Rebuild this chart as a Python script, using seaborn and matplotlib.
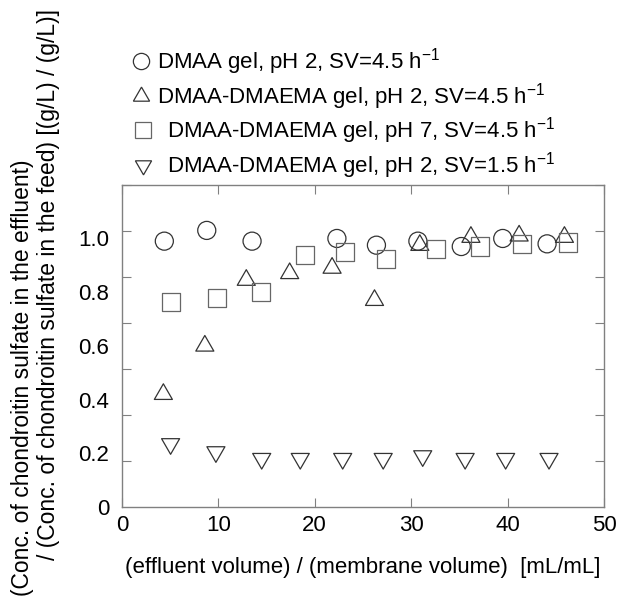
import numpy as np
import pandas as pd
import matplotlib
matplotlib.use("Agg")
import matplotlib.pyplot as plt
from matplotlib.lines import Line2D
import seaborn as sns

# veriler
dmaa_ph2_x = [4.4, 8.8, 13.5, 22.3, 26.4, 30.7, 35.2, 39.5, 44.1]
dmaa_ph2_y = [0.99, 1.03, 0.99, 1.00, 0.975, 0.99, 0.97, 1.00, 0.98]

copoly_ph2_x = [4.3, 8.6, 12.9, 17.4, 21.8, 26.2, 30.9, 36.2, 41.2, 45.9]
copoly_ph2_y = [0.42, 0.60, 0.845, 0.87, 0.89, 0.77, 0.975, 1.005, 1.01, 1.005]

copoly_ph7_x = [5.05, 9.9, 14.4, 19.0, 23.1, 27.4, 32.6, 37.1, 41.5, 46.3]
copoly_ph7_y = [0.765, 0.78, 0.80, 0.94, 0.95, 0.925, 0.96, 0.97, 0.98, 0.985]

copoly_slow_x = [5.05, 9.75, 14.5, 18.5, 22.9, 27.1, 31.2, 35.6, 39.8, 44.3]
copoly_slow_y = [0.235, 0.205, 0.18, 0.18, 0.18, 0.18, 0.19, 0.18, 0.18, 0.18]

labels = [
    "DMAA gel, pH 2, SV=4.5 h$^{\\mathrm{-1}}$",
    "DMAA-DMAEMA gel, pH 2, SV=4.5 h$^{\\mathrm{-1}}$",
    "DMAA-DMAEMA gel, pH 7, SV=4.5 h$^{\\mathrm{-1}}$",
    "DMAA-DMAEMA gel, pH 2, SV=1.5 h$^{\\mathrm{-1}}$",
]
ytick_vals = [0, 0.2, 0.4, 0.6, 0.8, 1.0]
ytick_labels = ["0", "0.2", "0.4", "0.6", "0.8", "1.0"]
xtick_vals = [0, 10, 20, 30, 40, 50]

sns.set_style("ticks")
plt.rcParams["font.family"] = ["Liberation Sans", "DejaVu Sans"]
plt.rcParams["mathtext.fontset"] = "custom"
plt.rcParams["mathtext.rm"] = "Liberation Sans"
plt.rcParams["mathtext.it"] = "Liberation Sans:italic"
plt.rcParams["text.color"] = "black"
plt.rcParams["axes.labelcolor"] = "black"

fig = plt.figure(figsize=(6.22, 6.04), dpi=100)
ax = fig.add_axes([0.196, 0.1606, 0.775, 0.5335])

series = [
    (dmaa_ph2_x, dmaa_ph2_y, "o", 169, "#333333"),
    (copoly_ph2_x, copoly_ph2_y, (3, 0, 0), 225, "#333333"),
    (copoly_ph7_x, copoly_ph7_y, "s", 169, "#666666"),
    (copoly_slow_x, copoly_slow_y, (3, 0, 180), 225, "#333333"),
]
for xs, ys, mk, size, col in series:
    d = pd.DataFrame({"x": xs, "y": ys})
    sns.scatterplot(data=d, x="x", y="y", ax=ax, marker=mk, s=size,
                    facecolor="none", edgecolor=col, linewidth=0.9, zorder=3)

ax.set_xlim(0, 50)
ax.set_ylim(0, 1.2)
ax.set_xticks(xtick_vals)
ax.set_yticks(ytick_vals)
ax.set_yticklabels(ytick_labels)
# olcek cizgileri etiketlerden bagimsiz: 7 esit aralik
ax.set_yticks(np.linspace(0, 1.2, 8), minor=True)
ax.tick_params(axis="x", direction="in", length=6.5, width=0.8, color="#808080",
               top=True, labelsize=16, pad=6, labelcolor="black")
ax.tick_params(axis="y", which="major", length=0, labelsize=16, pad=9,
               labelcolor="black")
ax.tick_params(axis="y", which="minor", direction="in", length=6.5, width=0.8,
               color="#808080", left=True, right=True)
for sp in ax.spines.values():
    sp.set_visible(True)
    sp.set_color("#808080")
    sp.set_linewidth(1.0)

ax.set_xlabel("(effluent volume) / (membrane volume)  [mL/mL]", fontsize=16, labelpad=15)
ax.set_ylabel("")

fig.text(23 / 622, 1 - 378 / 604, "(Conc. of chondroitin sulfate in the effluent)",
         rotation=90, ha="center", va="center", fontsize=16.5)
fig.text(49 / 622, 1 - 284 / 604,
         "/ (Conc. of chondroitin sulfate in the feed) [(g/L) / (g/L)]",
         rotation=90, ha="center", va="center", fontsize=16.5)

handles = [
    Line2D([], [], ls="none", marker=mk, markersize=np.sqrt(size) * 0.9,
           mfc="none", mec=col, mew=0.9)
    for _, _, mk, size, col in series
]
leg1 = fig.legend(handles[:2], labels[:2], loc="upper left",
                  bbox_to_anchor=(130 / 622, 1 - 46 / 604),
                  frameon=False, fontsize=16, handlelength=1.0, handletextpad=0.225,
                  labelspacing=0.18, borderpad=0, borderaxespad=0)
leg2 = fig.legend(handles[2:], labels[2:], loc="upper left",
                  bbox_to_anchor=(132 / 622, 1 - 115.5 / 604),
                  frameon=False, fontsize=16, handlelength=1.0, handletextpad=0.585,
                  labelspacing=0.18, borderpad=0, borderaxespad=0)

fig.savefig("out.png", dpi=100)
